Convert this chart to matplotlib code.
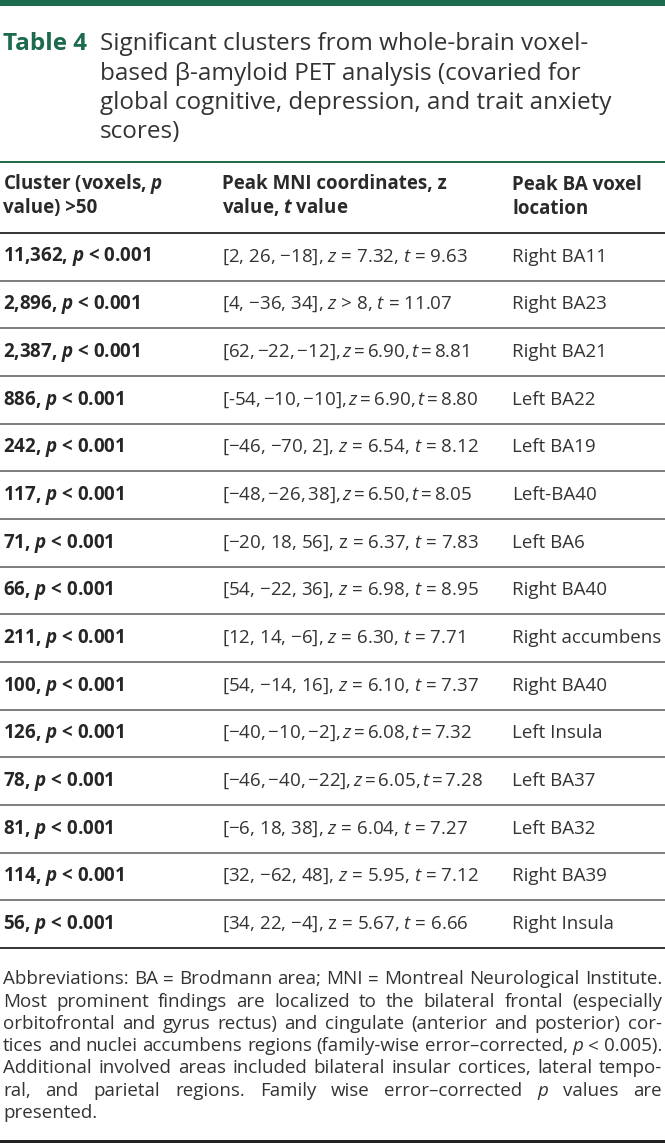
import matplotlib
matplotlib.use('Agg')
import matplotlib.pyplot as plt

# table content
voxels = ["11,362", "2,896", "2,387", "886", "242", "117", "71", "66",
          "211", "100", "126", "78", "81", "114", "56"]
p_values = ["< 0.001", "< 0.001", "< 0.001", "< 0.001", "< 0.001",
            "< 0.001", "< 0.001", "< 0.001", "< 0.001", "< 0.001",
            "< 0.001", "< 0.001", "< 0.001", "< 0.001", "< 0.001"]
coords = ["[2, 26, −18]", "[4, −36, 34]", "[62, −22, −12]", "[-54, −10, −10]",
          "[−46, −70, 2]", "[−48, −26, 38]", "[−20, 18, 56]", "[54, −22, 36]",
          "[12, 14, −6]", "[54, −14, 16]", "[−40, −10, −2]", "[−46, −40, −22]",
          "[−6, 18, 38]", "[32, −62, 48]", "[34, 22, −4]"]
z_values = ["= 7.32", "> 8", "= 6.90", "= 6.90", "= 6.54", "= 6.50", "= 6.37",
            "= 6.98", "= 6.30", "= 6.10", "= 6.08", "= 6.05", "= 6.04",
            "= 5.95", "= 5.67"]
t_values = ["9.63", "11.07", "8.81", "8.80", "8.12", "8.05", "7.83", "8.95",
            "7.71", "7.37", "7.32", "7.28", "7.27", "7.12", "6.66"]
locations = ["Right BA11", "Right BA23", "Right BA21", "Left BA22", "Left BA19",
             "Left-BA40", "Left BA6", "Right BA40", "Right accumbens",
             "Right BA40", "Left Insula", "Left BA37", "Left BA32",
             "Right BA39", "Right Insula"]

title_label = "Table 4"
title_lines = ["Significant clusters from whole-brain voxel-",
               "based β-amyloid PET analysis (covaried for",
               "global cognitive, depression, and trait anxiety",
               "scores)"]
footnote_lines = [
    "Abbreviations: BA = Brodmann area; MNI = Montreal Neurological Institute.",
    "Most prominent findings are localized to the bilateral frontal (especially",
    "orbitofrontal and gyrus rectus) and cingulate (anterior and posterior) cor-",
    "tices and nuclei accumbens regions (family-wise error–corrected, p < 0.005).",
    "Additional involved areas included bilateral insular cortices, lateral tempo-",
    "ral, and parietal regions. Family wise error–corrected p values are",
    "presented.",
]

# rows typeset with upright z / squeezed spacing in the original
upright_z = [6, 14]
tight_rows = [2, 3, 5, 10, 11]

plt.rcParams['mathtext.fontset'] = 'custom'
plt.rcParams['mathtext.rm'] = 'Open Sans'
plt.rcParams['mathtext.it'] = 'Open Sans:italic'
plt.rcParams['mathtext.bf'] = 'Open Sans:bold'
plt.rcParams['mathtext.bfit'] = 'Open Sans:italic:bold'

GREEN = '#1c6b4c'
TEXT = '#333333'
FONT = 'Open Sans'
FS = 13.5
TS = 17.5
W, H = 665, 1143

fig = plt.figure(figsize=(W / 100, H / 100), dpi=100)
ax = fig.add_axes([0, 0, 1, 1])
ax.set_xlim(0, W)
ax.set_ylim(H, 0)
ax.axis('off')
renderer = fig.canvas.get_renderer()


def cell(x, y, s, weight='normal', color=TEXT):
    ax.text(x, y, s, fontfamily=FONT, fontweight=weight, fontsize=FS,
            color=color, va='baseline', ha='left')


# top banner
ax.axhspan(0, 5.5, color=GREEN, lw=0)

# title
ax.text(3, 50, title_label, fontfamily=FONT, fontweight='bold', fontsize=TS,
        color=GREEN, va='baseline', ha='left')
for i, line in enumerate(title_lines):
    ax.text(100, 50 + i * 29.5, line, fontfamily=FONT, fontsize=TS, color=TEXT,
            va='baseline', ha='left')

# header
ax.plot([0, W], [162, 162], color=GREEN, lw=1.4, solid_capstyle='butt')
col_x = [3, 222, 512]
hdr = '#2a2a2a'
cell(col_x[0], 189.5, r"Cluster (voxels, $\mathbfit{p}$", 'bold', hdr)
cell(col_x[0], 213.5, "value) >50", 'bold', hdr)
cell(col_x[1], 189.5, "Peak MNI coordinates, z", 'bold', hdr)
cell(col_x[1], 213.5, r"value, $\mathbfit{t}$ value", 'bold', hdr)
cell(col_x[2], 189.5, "Peak BA voxel", 'bold', hdr)
cell(col_x[2], 213.5, "location", 'bold', hdr)
ax.plot([0, W], [232.5, 232.5], color='#333333', lw=1.4, solid_capstyle='butt')

# body rows
top = 233.0
pitch = 47.67
for i in range(len(voxels)):
    base = top + i * pitch + 28.5
    cell(col_x[0], base, voxels[i] + r", $\mathbfit{p}$ " + p_values[i], 'bold', '#262626')
    z = "z" if i in upright_z else r"$\mathit{z}$"
    s = coords[i] + ", " + z + " " + z_values[i] + r", $\mathit{t}$ = " + t_values[i]
    if i in tight_rows:
        s = s.replace(" ", r"$\,$").replace("$$", "")
    cell(col_x[1], base, s)
    cell(col_x[2], base, locations[i])
    yl = top + (i + 1) * pitch
    last = i == len(voxels) - 1
    ax.plot([0, W], [yl, yl], color='#333333' if last else '#5a5a5a',
            lw=1.4 if last else 1.1, solid_capstyle='butt')

# footnote, justified
left, right = 3, 662
for j, line in enumerate(footnote_lines):
    y = 984.5 + j * 22.2
    words = line.split(' ')
    texts = []
    for w in words:
        texts.append(ax.text(0, y, w, fontfamily=FONT, fontsize=FS,
                             fontstyle='italic' if w == 'p' else 'normal',
                             color=TEXT, va='baseline', ha='left'))
    widths = [t.get_window_extent(renderer).width for t in texts]
    if j < len(footnote_lines) - 1:
        gap = (right - left - sum(widths)) / (len(words) - 1)
    else:
        gap = 4.5
    x = left
    for t, w in zip(texts, widths):
        t.set_x(x)
        x += w + gap

ax.axhspan(1140, H, color='#222222', lw=0)

fig.savefig('out.png', dpi=100)
